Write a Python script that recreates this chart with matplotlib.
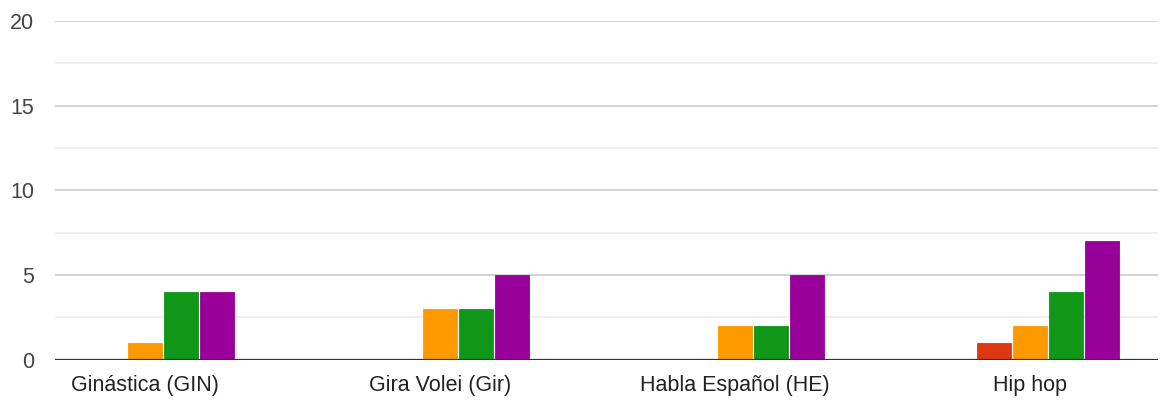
import numpy as np
import matplotlib.pyplot as plt

# ── data ──────────────────────────────────────────────────────────────────────
categories = ["Ginástica (GIN)", "Gira Volei (Gir)", "Habla Español (HE)", "Hip hop"]
s_blue   = [0, 0, 0, 0]
s_red    = [0, 0, 0, 1]
s_orange = [1, 3, 2, 2]
s_green  = [4, 3, 2, 4]
s_purple = [4, 5, 5, 7]

series = [s_blue, s_red, s_orange, s_green, s_purple]
colors = ["#3366cc", "#dc3912", "#ff9900", "#109618", "#990099"]

# ── figure ────────────────────────────────────────────────────────────────────
plt.rcParams["font.family"] = ["Liberation Sans", "DejaVu Sans"]
fig = plt.figure(figsize=(11.66, 4.01), dpi=100)
ax = fig.add_axes([55 / 1166, 1 - 359.5 / 401, 1103 / 1166, 338.5 / 401])

x = np.arange(len(categories))
w = 0.122
for i, (vals, c) in enumerate(zip(series, colors)):
    ax.bar(x + (i - 2) * w, vals, width=w * 0.96, color=c,
           edgecolor=c, linewidth=0.6, zorder=3)

ax.set_xlim(-0.305, 3.434)
ax.set_ylim(0, 20)

# gridlines: major every 5, lighter minor in between
ax.set_yticks([0, 5, 10, 15, 20])
ax.set_yticks([2.5, 7.5, 12.5, 17.5], minor=True)
ax.grid(axis="y", which="major", color="#cccccc", linewidth=1.2, zorder=0)
ax.grid(axis="y", which="minor", color="#ebebeb", linewidth=1.2, zorder=0)
ax.axhline(0, color="#333333", linewidth=1.6, zorder=4)

ax.set_xticks(x)
ax.set_xticklabels(categories)
ax.tick_params(axis="x", length=0, pad=11, labelsize=15.5, labelcolor="#222222")
ax.tick_params(axis="y", which="both", length=0, pad=15, labelsize=15.5,
               labelcolor="#444444")

for sp in ax.spines.values():
    sp.set_visible(False)

fig.savefig("out.png", dpi=100)
